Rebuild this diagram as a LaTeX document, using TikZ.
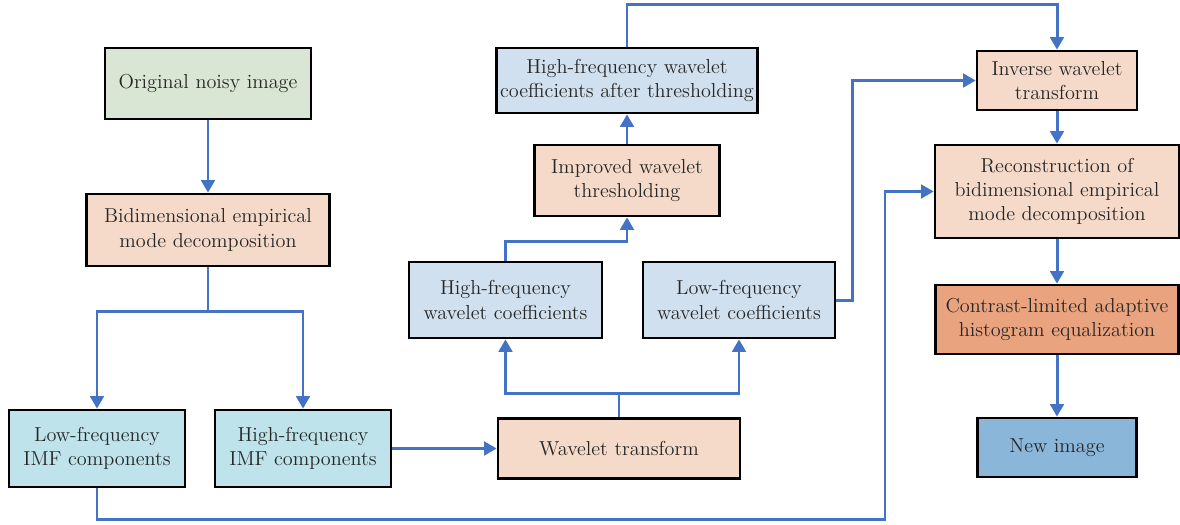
\documentclass[tikz,border=0pt]{standalone}
\usetikzlibrary{arrows.meta}

\definecolor{flowblue}{HTML}{4472C4}
\definecolor{srcgreen}{HTML}{D9E6D3}
\definecolor{peach}{HTML}{F6DAC9}
\definecolor{imfcyan}{HTML}{BEE3EA}
\definecolor{coefblue}{HTML}{D1E0EE}
\definecolor{claheorange}{HTML}{E9A47F}
\definecolor{outblue}{HTML}{8AB6D9}

\begin{document}
\begin{tikzpicture}[x=0.2mm,y=-0.2mm,
    box/.style={draw=black,line width=1.5pt,align=center,inner sep=2pt,
      text=black!85,font=\fontsize{11.5}{13.8}\selectfont},
    flow/.style={draw=flowblue,line width=1.7pt,-{Triangle[length=2.5mm,width=2.7mm]}},
    link/.style={draw=flowblue,line width=1.7pt}]
  \useasboundingbox (0,0) rectangle (1180,524);

  % left column
  \node[box,fill=srcgreen,minimum width=4.12cm,minimum height=1.42cm] (orig) at (208,83.5) {Original noisy image};
  \node[box,fill=peach,minimum width=4.86cm,minimum height=1.44cm] (bemd) at (208,230) {Bidimensional empirical\\mode decomposition};
  \node[box,fill=imfcyan,minimum width=3.52cm,minimum height=1.54cm] (lowimf) at (97,448.5) {Low-frequency\\IMF components};
  \node[box,fill=imfcyan,minimum width=3.52cm,minimum height=1.54cm] (highimf) at (303,448.5) {High-frequency\\IMF components};

  % wavelet branch
  \node[box,fill=peach,minimum width=4.84cm,minimum height=1.2cm] (wt) at (619,448.5) {Wavelet transform};
  \node[box,fill=coefblue,minimum width=3.86cm,minimum height=1.52cm] (hwc) at (505.5,300) {High-frequency\\wavelet coefficients};
  \node[box,fill=coefblue,minimum width=3.84cm,minimum height=1.52cm] (lwc) at (739,300) {Low-frequency\\wavelet coefficients};
  \node[box,fill=peach,minimum width=3.7cm,minimum height=1.42cm] (thr) at (627,180.5) {Improved wavelet\\thresholding};
  \node[box,fill=coefblue,minimum width=5.2cm,minimum height=1.3cm] (hwcthr) at (627,80.5) {High-frequency wavelet\\coefficients after thresholding};

  % right column
  \node[box,fill=peach,minimum width=3.2cm,minimum height=1.18cm] (iwt) at (1057,80.5) {Inverse wavelet\\transform};
  \node[box,fill=peach,minimum width=4.88cm,minimum height=1.86cm] (recon) at (1057,191.5) {Reconstruction of\\bidimensional empirical\\mode decomposition};
  \node[box,fill=claheorange,minimum width=4.86cm,minimum height=1.38cm] (clahe) at (1057,319.5) {Contrast-limited adaptive\\histogram equalization};
  \node[box,fill=outblue,minimum width=3.18cm,minimum height=1.18cm] (newimg) at (1057,447.5) {New image};

  \coordinate (lowbus) at (885,519);

  \draw[flow] (orig) -- (bemd);
  \draw[link] (bemd.south) -- ++(0,44) coordinate (imfsplit);
  \draw[flow] (imfsplit) -| (lowimf.north);
  \draw[flow] (imfsplit) -| (highimf.north);
  \draw[flow] (lowimf.south) |- (lowbus) |- (recon.west);
  \draw[flow] (highimf.east) -- (wt.west);

  \draw[link] (wt.north) -- ++(0,-24) coordinate (wtsplit);
  \draw[flow] (wtsplit) -| (hwc.south);
  \draw[flow] (wtsplit) -| (lwc.south);
  \draw[flow] (hwc.north) -- ++(0,-19) -| (thr.south);
  \draw[flow] (thr) -- (hwcthr);
  \draw[flow] (hwcthr.north) -- ++(0,-42) -| (iwt.north);
  \draw[flow] (lwc.east) -- ++(16,0) |- (iwt.west);

  \draw[flow] (iwt) -- (recon);
  \draw[flow] (recon) -- (clahe);
  \draw[flow] (clahe) -- (newimg);
\end{tikzpicture}
\end{document}
